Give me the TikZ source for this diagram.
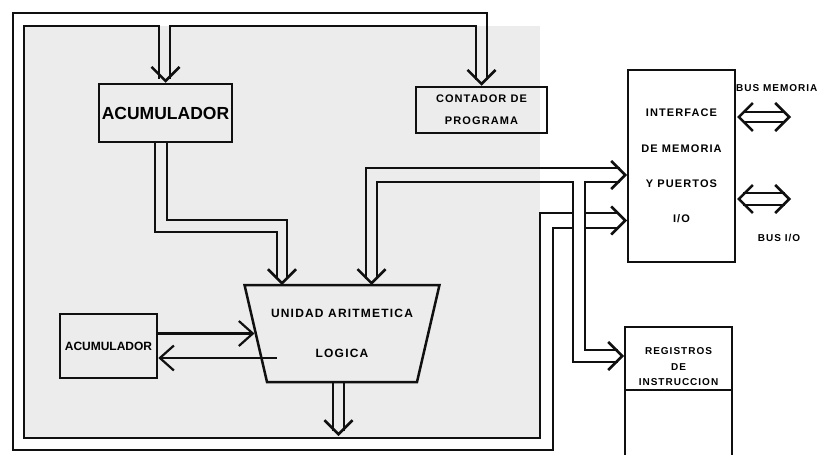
\documentclass[tikz,border=0pt]{standalone}
\usepackage{fontspec}
\setmainfont{Liberation Sans}
\newfontfamily\plotfont[LetterSpace=10]{Liberation Sans}
\usepackage{xcolor}
\definecolor{cInk}{HTML}{101010}
\definecolor{cSpeck}{HTML}{ECECEC}
\usetikzlibrary{positioning,arrows.meta,shapes.geometric,calc}
\tikzset{
  node-box/.style={draw=cInk,line width=2.5pt,align=center,inner sep=0pt},
  node-alu/.style={draw=cInk,line width=2.5pt,trapezium,trapezium stretches=true,
    shape border rotate=180,trapezium angle=66.3,minimum width=195pt,
    minimum height=97pt,align=center,inner sep=0pt},
  bus-line/.style={draw=cInk,line width=2.5pt},
  bus-head/.style={draw=cInk,line width=2.5pt,-{Straight Barb[length=14pt,width=28pt]}},
  arrow/.style={draw=cInk,line width=2.2pt,-{Straight Barb[length=14pt,width=25pt]}},
  txt-big/.style={font=\bfseries\fontsize{17.5}{21}\selectfont},
  txt-acc/.style={font=\bfseries\fontsize{12}{14}\selectfont},
  txt-small/.style={font=\plotfont\bfseries\fontsize{11}{13.2}\selectfont},
  txt-alu/.style={font=\plotfont\bfseries\fontsize{12}{14}\selectfont},
  txt-reg/.style={font=\plotfont\bfseries\fontsize{10}{15.5}\selectfont,align=center,inner sep=0pt},
  txt-label/.style={font=\plotfont\bfseries\fontsize{10}{12}\selectfont,inner sep=0pt},
}

\begin{document}
\begin{tikzpicture}[x=1pt,y=-1pt]
  \useasboundingbox (0,0) rectangle (825,455);
  % sombreado del area del bus
  \fill[cSpeck] (24,26) rectangle (540,438);

  \node[node-box,txt-big,minimum width=133pt,minimum height=58pt] (acum) at (165.5,113) {ACUMULADOR};
  \node[node-box,txt-small,minimum width=131pt,minimum height=46pt] (pc) at (481.5,110) {CONTADOR DE\\[9pt]PROGRAMA};
  \node[node-alu,txt-alu] (alu) at (342,333.5) {UNIDAD ARITMETICA\\[26pt]LOGICA};
  \node[node-box,txt-acc,minimum width=97pt,minimum height=64pt] (acc) at (108.5,346) {ACUMULADOR};
  \node[node-box,txt-small,minimum width=107pt,minimum height=192pt] (iface) at (681.5,166) {INTERFACE\\[22pt]DE MEMORIA\\[22pt]Y PUERTOS\\[22pt]I/O};
  \node[txt-reg] (regs) at (678.5,367) {REGISTROS\\DE\\INSTRUCCION};
  \node[txt-label,anchor=west] (busmem) at (736,88) {BUS MEMORIA};
  \node[txt-label] (busio) at (779,238) {BUS I/O};

  % registros (abierto por abajo)
  \draw[bus-line] (625,460) |- (732,327) -- (732,460);
  \draw[bus-line] (625,390) -- (732,390);

  % bus principal (lazo doble)
  \draw[bus-line] (573,228) -| (553,450) -| (13,13) -| (487,80);
  \draw[bus-line] (585,228) -- (619,228);
  \draw[bus-line] (573,213) -| (540,438) -| (24,26) -- (159,26) -- (159,79);
  \draw[bus-line] (170,79) -- (170,26) -| (476,80);
  \draw[bus-line] (585,213) -- (619,213);
  \draw[bus-head] ([yshift=2pt]acum.north) -- (acum.north);
  \draw[bus-head] ([yshift=2pt]pc.north) -- (pc.north);
  \draw[bus-head] (625,220.5) -- (627,220.5);

  % acumulador -> ALU
  \draw[bus-line] (155,142) |- (277,232) -- (277,279);
  \draw[bus-line] (167,142) |- (287,220) -- (287,279);
  \draw[bus-head] (282,283) -- (282,285);

  % ALU <-> interface, ramal a registros
  \draw[bus-line] (366,279) |- (620,168);
  \draw[bus-line] (377,279) |- (573,182) -- (573,362) -- (618,362);
  \draw[bus-line] (620,182) -| (585,350) -- (618,350);
  \draw[bus-head] (371.5,283) -- (371.5,285);
  \draw[bus-head] (625,175) -- (627,175);
  \draw[bus-head] (622,356) -- (624,356);

  % salida ALU
  \draw[bus-line] (333,382) -- (333,431);
  \draw[bus-line] (344,382) -- (344,431);
  \draw[bus-head] (338.5,434) -- (338.5,436);

  % acumulador <-> ALU
  \draw[arrow] (acc.east |- alu.west) -- (alu.west);
  \draw[arrow] (276.5,358) -- (acc.east |- 0,358);

  % buses externos
  \draw[bus-line] (743,112) -- (785,112);
  \draw[bus-line] (743,122) -- (785,122);
  \draw[bus-head] (739,117) -- (737,117);
  \draw[bus-head] (789,117) -- (791,117);
  \draw[bus-line] (743,193) -- (785,193);
  \draw[bus-line] (743,205) -- (785,205);
  \draw[bus-head] (739,199) -- (737,199);
  \draw[bus-head] (789,199) -- (791,199);
\end{tikzpicture}
\end{document}
